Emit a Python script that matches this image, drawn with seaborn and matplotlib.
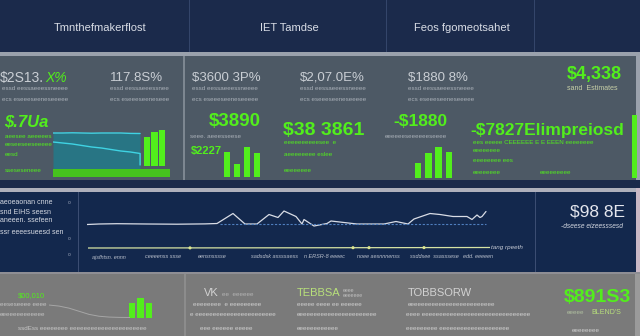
import matplotlib
matplotlib.use("Agg")
import matplotlib.pyplot as plt
from matplotlib.patches import Rectangle
import seaborn as sns
import pandas as pd

sns.set_theme(style="white")
plt.rcParams["font.family"] = ["Liberation Sans", "DejaVu Sans"]

# ---- dashboard content -------------------------------------------------
header_titles = ["Tmnthefmakerflost", "IET Tamdse", "Feos fgomeotsahet"]

kpi_labels = ["$2S13.", "117.8S%", "$3600 3P%", "$2,07.0E%", "$1880 8%"]
kpi_label_suffix = "X%"
kpi_total = "$4,338"
kpi_total_note = "sand  Estimates"

green_values = ["$.7Ua", "$3890", "$38 3861", "-$1880", "-$7827Elimpreiosd"]
green_minor = ["$2227"]

# market flow panel (left)
flow_step = [0, 1, 2, 3, 4, 5, 6, 7, 8, 9, 9]
flow_upper = [40, 40, 40.2, 40, 39.8, 40, 40, 40, 39.6, 39.5, 39.5]
flow_lower = [31, 30, 29, 27.5, 26, 25, 23.5, 22, 21, 19.5, 8]

bars_left = [29, 34, 36]
bars_mid = [25, 13, 30, 24]
bars_right = [15, 25, 31, 26]
bars_bottom = [15, 20, 15]

# price trend (middle band)
trend_day = [0, 12, 30, 60, 90, 118, 130, 146, 158, 170, 182, 191, 197, 209,
             215, 217, 227, 240, 244, 270, 297, 309, 321, 327, 343, 353, 366,
             380, 385, 390, 393, 395, 399]
trend_value = [0, 0.5, 0.8, 0.5, 0.3, 0.6, 1, 11, 0.5, 0.5, 10, 7, 13.5, 8,
               0.5, 5, -1.5, 1, 3.5, 0.5, 0.5, 3, 0.5, 5.5, 11, 10, 8, 8, 5,
               9.5, 7, 8, 13]
baseline_days = [133, 399]
baseline_level = [0.2, 0.2]

volume_day = [0, 100, 200, 300, 402]
volume_value = [0, 0.1, 0.2, 0.35, 0.5]
volume_marks = [102, 265, 281, 336]
volume_mark_value = [0.1, 0.3, 0.32, 0.38]

axis_labels = ["ajsfhtsn. ennn", "ceeeenss ssse", "eensnsssse",
               "sadsdsk assssaess", "n ERSR-8 eeeec", "noee aesnnnenss",
               "ssddsee  ssasssese", "edd. eeeeen"]
left_notes = ["aeoeaonan cnne", "snd EIHS seesn", "aneeen. ssefeen", "ssr eeeesueesd sen"]
summary_value = "$98 8E"
summary_note = "-dseese eizeesssesd"

bottom_titles = ["VK", "TEBBSA", "TOBBSORW"]
bottom_green_small = "$00,010"
bottom_total = "$891S3"
bottom_total_note = "BLEND'S"
bottom_curve_x = [0, 10, 20, 30, 40, 50, 60, 70, 81]
bottom_curve_y = [12, 11, 9, 6, 3, 1.2, 0.4, 0.1, 0]

# ---- palette -----------------------------------------------------------
NAVY = "#1b2a4b"
NAVY2 = "#13284d"
SLATE = "#4d5965"
GREY = "#7a7a7a"
EDGE = "#9aa1ac"
GREEN = "#52ee1c"
PALE = "#c9ced4"
SMALL = "#a9b0b8"

W, H = 640, 336
fig = plt.figure(figsize=(W / 100, H / 100), dpi=100)


def fx(x):
    return x / W


def fy(y):
    return 1 - y / H


def rect(x0, y0, x1, y1, color, z=-2, alpha=1.0):
    fig.patches.append(Rectangle((fx(x0), fy(y1)), (x1 - x0) / W, (y1 - y0) / H,
                                 transform=fig.transFigure, facecolor=color,
                                 edgecolor="none", zorder=z, alpha=alpha))


def txt(x, y, s, size, color, ha="left", weight="normal", **kw):
    fig.text(fx(x), fy(y), s, fontsize=size, color=color, ha=ha, va="center",
             fontweight=weight, **kw)


def box(x0, y0, x1, y1):
    ax = fig.add_axes([fx(x0), fy(y1), (x1 - x0) / W, (y1 - y0) / H])
    ax.set_axis_off()
    ax.patch.set_alpha(0)
    return ax


# ---- background blocks ---------------------------------------------------
rect(0, 0, 640, 336, GREY)
rect(0, 0, 640, 52, NAVY)
rect(0, 52, 640, 56, EDGE)
rect(0, 56, 636, 180, SLATE)
rect(636, 56, 640, 180, EDGE)
rect(183, 56, 185, 180, "#7d8791")
rect(0, 180, 640, 188, NAVY)
rect(0, 188, 640, 192, "#aeb0bc")
rect(0, 192, 636, 272, NAVY2)
rect(636, 188, 640, 272, "#c9b8c6")
rect(78, 192, 79, 272, "#3b4d72")
rect(535, 192, 536, 272, "#3b4d72")
rect(0, 272, 640, 274, "#8e8e94")
rect(184, 274, 186, 336, "#8c8c8c")
rect(635, 274, 640, 336, "#9a9a9a")
for xd in (189, 386, 534):
    rect(xd, 0, xd + 1, 52, "#34456a")

# ---- header ---------------------------------------------------------------
for title, xc in zip(header_titles, (100, 289, 462)):
    txt(xc, 28, title, 8, "#d9dde6", ha="center")

# ---- top KPI row ----------------------------------------------------------
txt(0, 78, kpi_labels[0], 10, PALE)
txt(45, 78, kpi_label_suffix, 10, GREEN, style="italic")
for s, x in zip(kpi_labels[1:], (110, 192, 300, 408)):
    txt(x, 78, s, 9.5, PALE)
txt(567, 75, kpi_total, 13, GREEN, weight="bold")
txt(567, 88, kpi_total_note, 5, "#c8d0a8")

for x, w in ((2, 70), (110, 56), (192, 70), (300, 60), (408, 62)):
    txt(x, 89, "essd eessaeeessneeee"[: max(6, w // 3)], 4.5, SMALL)
    txt(x, 99, "ecs eseeeseeneseeeee"[: max(6, w // 3)], 4.5, SMALL)

# ---- green headline values -------------------------------------------------
txt(4, 122, green_values[0], 12, GREEN, weight="bold", style="italic")
txt(209, 122, green_values[1], 13.5, GREEN, weight="bold")
txt(283, 131, green_values[2], 14, GREEN, weight="bold")
txt(393, 122, green_values[3], 12.5, GREEN, weight="bold")
txt(470, 131, green_values[4], 12.5, GREEN, weight="bold")
txt(191, 151, green_minor[0], 8, GREEN, weight="bold")

for y, s in ((136, "aeesee aeeeees"), (145, "eeseeseeseeeee"), (155, "eesd"), (170, "sseseseneee")):
    txt(5, y, s, 4.5, GREEN)
txt(190, 137, "seee. aeeesseese", 4.5, SMALL)
for y, s in ((143, "eeeeeeeeeesee  e"), (155, "aeeeeeeee eslee"), (170, "eeeeeeee")):
    txt(284, y, s, 4.5, GREEN)
txt(385, 137, "eeeeeeseeeeeeseeee", 4.5, SMALL)
for y, s in ((143, "ees eeeee CEEEEEE E E EEEN eeeeeeee"), (151, "eeeeeeee"),
             (160, "eeeeeeee ees"), (172, "eeeeeeee")):
    txt(473, y, s, 4.5, GREEN)
txt(540, 172, "eeeeeeeee", 4.5, GREEN)

# right edge accent bar
rect(632, 115, 637, 178, GREEN, z=1)

# ---- left flow panel (area + lines) ----------------------------------------
flow = pd.DataFrame({"step": flow_step, "upper": flow_upper, "lower": flow_lower})
ax = box(53, 128, 143, 173)
ax.fill_between(flow["step"][:-1], 0, flow["upper"][:-1], color="#287584", lw=0)
sns.lineplot(data=flow, x="step", y="upper", ax=ax, color="#3fd3e3", lw=1.0,
             estimator=None, sort=False)
sns.lineplot(data=flow, x="step", y="lower", ax=ax, color="#3fd3e3", lw=1.0,
             estimator=None, sort=False)
ax.set_xlim(0, 9.3)
ax.set_ylim(0, 45)
ax.set_axis_off()
rect(53, 169, 170, 177, "#46c21e", z=1)


def draw_bars(values, x0, x1, y_bottom, y_top, width):
    a = box(x0, y_top, x1, y_bottom)
    df = pd.DataFrame({"i": list(range(len(values))), "v": values})
    sns.barplot(data=df, x="i", y="v", ax=a, color=GREEN, width=width,
                saturation=1, edgecolor="none")
    a.set_xlim(-0.5, len(values) - 0.5)
    a.set_ylim(0, y_bottom - y_top)
    a.set_axis_off()


draw_bars(bars_left, 143, 166, 166, 126, 0.8)
draw_bars(bars_mid, 222, 262, 177, 137, 0.65)
draw_bars(bars_right, 413, 454, 178, 138, 0.65)
draw_bars(bars_bottom, 128, 153, 318, 290, 0.8)

# ---- middle band: price trend ---------------------------------------------
for y, s in zip((203, 212, 221, 232), left_notes):
    txt(0, y, s, 5, "#d5d9e2")
for y in (203, 239, 254):
    txt(68, y, "o", 3.5, "#9aa4b8")

trend = pd.DataFrame({"day": trend_day, "value": trend_value})
ax = box(87, 200, 487, 240)
sns.lineplot(data=trend, x="day", y="value", ax=ax, color="#d9dde6", lw=0.9,
             estimator=None, sort=False)
sns.lineplot(x=baseline_days, y=baseline_level, ax=ax, color="#4f7fbf", lw=0.8,
             linestyle=(0, (2, 1.5)))
ax.set_xlim(0, 400)
ax.set_ylim(-15.5, 24.5)
ax.set_axis_off()

ax = box(88, 244, 490, 252)
sns.lineplot(x=volume_day, y=volume_value, ax=ax, color="#d6e3a3", lw=0.9)
sns.scatterplot(x=volume_marks, y=volume_mark_value, ax=ax, color="#e8ef7a",
                s=5, edgecolor="none")
ax.set_xlim(0, 402)
ax.set_ylim(-4, 4)
ax.set_axis_off()
txt(491, 248, "tang rpeeth", 4.5, "#c8ccd6", style="italic")

for i, s in enumerate(axis_labels):
    txt(92 + i * 53, 257, s, 4, "#b8bfcc", style="italic")

txt(598, 212, summary_value, 12.5, "#e4e6ee", ha="center")
txt(592, 227, summary_note, 4.8, "#d5d9e2", ha="center", style="italic")

# ---- bottom band ------------------------------------------------------------
txt(18, 296, bottom_green_small, 5.5, GREEN)
txt(0, 305, "eeseseeee eeee", 4.5, "#c4c4c4")
txt(0, 314, "eeeeeeeeeeeee", 4.5, "#c4c4c4")
txt(18, 328, "ssdEss eeeeeeee eeeeeeeeeeeeeeeeeeeeee", 4.5, "#c8c8c8")
ax = box(49, 304, 130, 318)
sns.lineplot(x=bottom_curve_x, y=bottom_curve_y, ax=ax, color="#a6a6a6", lw=0.7)
ax.set_xlim(0, 81)
ax.set_ylim(-0.5, 13)
ax.set_axis_off()

txt(204, 293, bottom_titles[0], 8, "#d2d2d2")
txt(222, 295, "ee  eeeeee", 4.5, "#b4b4b4")
txt(297, 293, bottom_titles[1], 8, "#b8e07a")
txt(343, 293, "eeee\neeeeeee", 3.8, "#c0c0c0")
txt(408, 293, bottom_titles[2], 8, "#d2d2d2")
txt(193, 305, "eeeeeeee  e eeeeeeeee", 4.5, "#d0d0d0")
txt(190, 314, "e eeeeeeeeeeeeeeeeeeeeeee", 4.5, "#d0d0d0")
txt(200, 328, "eee eeeeee eeeee", 4.5, "#d0d0d0")
txt(297, 305, "eeeee eeee ee eeeeee", 4.5, "#d0d0d0")
txt(297, 314, "eeeeeeeeeeeeeeeeeeeeeee", 4.5, "#d0d0d0")
txt(297, 328, "eeeeeeeeeeee", 4.5, "#d0d0d0")
txt(408, 305, "eeeeeeeeeeeeeeeeeeeeeeeee", 4.5, "#d0d0d0")
txt(406, 314, "eeee eeeeeeeeeeeeeeeeeeeeeeeeeeeeeee", 4.5, "#d0d0d0")
txt(406, 328, "eeeeeeeee eeeeeeeeeeeeeeeeeeee", 4.5, "#d0d0d0")

txt(597, 298, bottom_total, 14, GREEN, ha="center", weight="bold")
txt(567, 312, "eeeee", 4.5, "#b0c0a0")
txt(591, 312, bottom_total_note, 5, "#b8e07a")
txt(572, 330, "eeeeeeee", 4.5, "#d0d0d0")

fig.savefig("out.png", dpi=100)
